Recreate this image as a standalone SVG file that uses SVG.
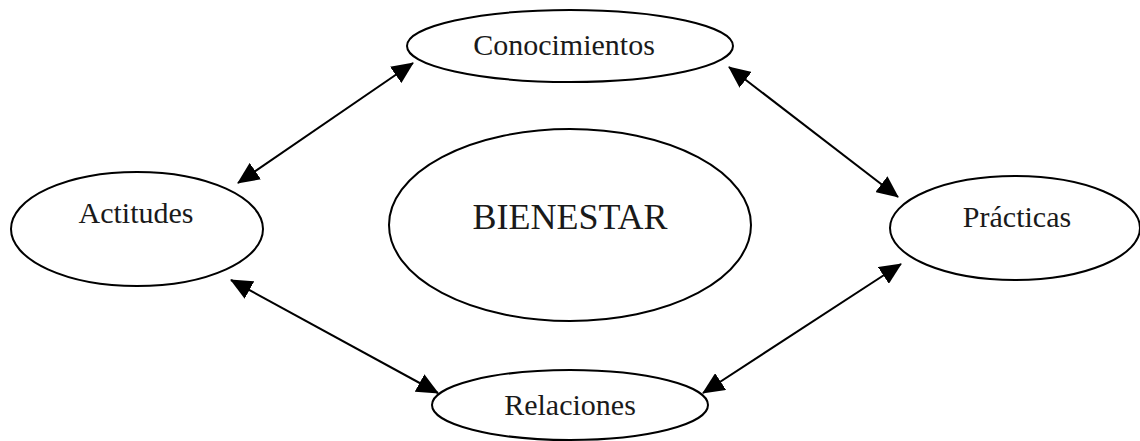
<svg xmlns="http://www.w3.org/2000/svg" width="1140" height="441" viewBox="0 0 1140 441">
<style>
.node ellipse{fill:#fff;stroke:#000;stroke-width:2}
.node text{font-family:"Liberation Serif","Times New Roman",serif;font-size:30px;fill:#1a1a1a;text-anchor:middle}
.conn line{stroke:#000;stroke-width:2;marker-start:url(#ah);marker-end:url(#ah)}
</style>
<defs>
<marker id="ah" viewBox="0 0 22 20" markerWidth="22" markerHeight="20" refX="21" refY="10" orient="auto-start-reverse" markerUnits="userSpaceOnUse">
<path d="M0,0 L22,10 L0,20 Z" fill="#000"/>
</marker>
</defs>
<rect width="1140" height="441" fill="#fff"/>
<g id="conocimientos" class="node">
<ellipse cx="570" cy="46" rx="163" ry="36"/>
<text x="564" y="55">Conocimientos</text>
</g>
<g id="actitudes" class="node">
<ellipse cx="137" cy="229" rx="126" ry="57"/>
<text x="136" y="223">Actitudes</text>
</g>
<g id="bienestar" class="node">
<ellipse cx="570" cy="225" rx="181" ry="96"/>
<text x="570" y="229" style="font-size:36px">BIENESTAR</text>
</g>
<g id="practicas" class="node">
<ellipse cx="1015" cy="228" rx="125" ry="52"/>
<text x="1017" y="227">Prácticas</text>
</g>
<g id="relaciones" class="node">
<ellipse cx="570" cy="405" rx="138" ry="35"/>
<text x="570" y="415">Relaciones</text>
</g>
<g id="connectors" class="conn">
<line x1="238" y1="183" x2="413" y2="63"/>
<line x1="729" y1="67" x2="898" y2="197"/>
<line x1="231" y1="280" x2="438" y2="393"/>
<line x1="703" y1="393" x2="901" y2="264"/>
</g>
</svg>
